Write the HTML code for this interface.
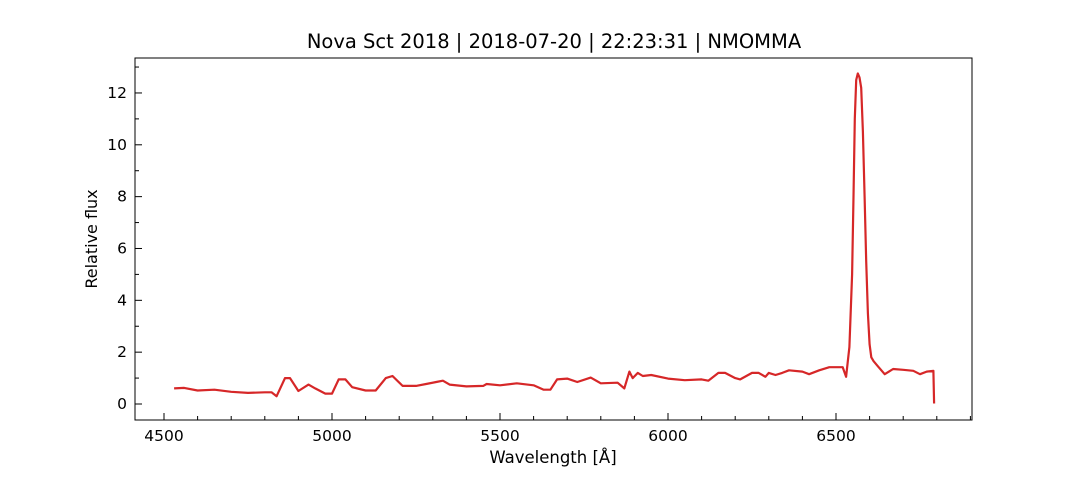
<!DOCTYPE html>
<html><head><meta charset="utf-8"><style>
body{margin:0;background:#fff;}
svg{display:block;font-family:"DejaVu Sans","Liberation Sans",sans-serif;}
</style></head><body>
<svg id="chart" width="1080" height="480">
<text x="554" y="48" font-size="19.5" text-anchor="middle">Nova Sct 2018 | 2018-07-20 | 22:23:31 | NMOMMA</text>
<g id="axes"></g>
<text x="553" y="463" font-size="16.5" text-anchor="middle">Wavelength [Å]</text>
<text transform="translate(97,239) rotate(-90)" font-size="16" text-anchor="middle">Relative flux</text>
</svg>
<script>
const wavelengths=[4530,4560,4600,4650,4700,4750,4800,4820,4835,4860,4875,4900,4930,4950,4980,5000,5020,5040,5060,5100,5130,5160,5180,5210,5250,5280,5310,5330,5350,5400,5450,5460,5500,5550,5600,5630,5650,5670,5700,5730,5770,5800,5850,5870,5885,5895,5910,5925,5950,6000,6050,6100,6120,6150,6170,6200,6215,6250,6270,6290,6300,6320,6340,6360,6400,6420,6450,6480,6520,6530,6540,6548,6552,6556,6560,6565,6570,6575,6580,6585,6590,6595,6600,6605,6612,6625,6645,6670,6700,6730,6750,6770,6790,6792];
const flux=[0.6,0.62,0.52,0.55,0.47,0.43,0.45,0.45,0.3,1.0,1.0,0.5,0.75,0.6,0.4,0.4,0.95,0.95,0.65,0.52,0.52,1.0,1.08,0.7,0.7,0.77,0.85,0.9,0.75,0.68,0.7,0.77,0.72,0.8,0.72,0.55,0.55,0.95,0.98,0.85,1.02,0.8,0.82,0.6,1.25,1.0,1.2,1.08,1.12,0.98,0.92,0.95,0.9,1.2,1.2,1.0,0.95,1.2,1.2,1.05,1.2,1.12,1.2,1.3,1.25,1.15,1.3,1.42,1.42,1.05,2.2,5.0,8.0,11.0,12.5,12.75,12.6,12.2,10.5,8.0,5.5,3.5,2.3,1.8,1.65,1.45,1.15,1.35,1.32,1.28,1.15,1.25,1.28,0.02];
const xTicks=[4500,5000,5500,6000,6500];
const yTicks=[0,2,4,6,8,10,12];
const L=135,R=972,T=58,B=420;
const x=v=>164+(v-4500)*0.336;
const y=v=>404-v*25.92;
const NS='http://www.w3.org/2000/svg';
const g=document.getElementById('axes');
function mk(t,a){const e=document.createElementNS(NS,t);for(const k in a)e.setAttribute(k,a[k]);g.appendChild(e);return e;}
for(let v=4500;v<=6900;v+=100){const major=v%500===0;
const t=mk('line',{x1:x(v),x2:x(v),y1:B,y2:B-(major?7:4),stroke:'#000','stroke-width':1});

}
xTicks.forEach(v=>{const t=mk('text',{x:x(v),y:B+21,'font-size':15.5,'text-anchor':'middle'});t.textContent=v;

});
for(let v=0;v<=13;v+=1){const major=v%2===0;
const t=mk('line',{x1:L,x2:L+(major?7:4),y1:y(v),y2:y(v),stroke:'#000','stroke-width':1});

}
yTicks.forEach(v=>{const t=mk('text',{x:L-8,y:y(v)+5,'font-size':15.5,'text-anchor':'end'});t.textContent=v;

});
const pts=wavelengths.map((w,i)=>x(w).toFixed(1)+','+y(flux[i]).toFixed(1)).join(' ');
const line=mk('polyline',{points:pts,fill:'none',stroke:'#d62728','stroke-width':2.2,'stroke-linejoin':'round'});


const fr=mk('rect',{x:L,y:T,width:R-L,height:B-T,fill:'none',stroke:'#000','stroke-width':1});


</script>
</body></html>
